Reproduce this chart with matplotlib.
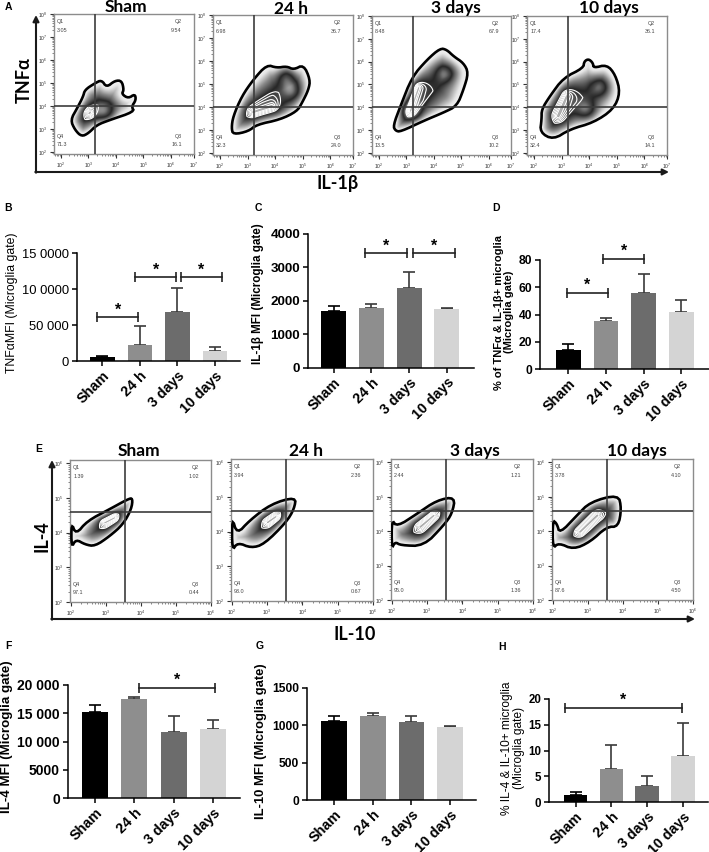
import numpy as np
from matplotlib import pyplot as plt
from matplotlib.patches import Polygon
from matplotlib.colors import LinearSegmentedColormap

W, H = 709, 852
plt.rcParams['font.family'] = ['Liberation Sans', 'DejaVu Sans']

## DATA ##
groups = ['Sham', '24 h', '3 days', '10 days']
bar_colors = ['#000000', '#8e8e8e', '#6c6c6c', '#d4d4d4']

# bar heights and top of the error bar
tnf_mfi = [5500, 22000, 68000, 13500]
tnf_top = [7000, 48000, 101000, 20000]
il1_mfi = [1700, 1790, 2370, 1745]
il1_top = [1840, 1900, 2850, 1780]
tnf_il1_pct = [14, 35, 55.5, 42]
tnf_il1_top = [18, 37.5, 70, 51]
il4_mfi = [15300, 17600, 11700, 12150]
il4_top = [16450, 17900, 14500, 13800]
il10_mfi = [1060, 1127, 1047, 972]
il10_top = [1125, 1160, 1122, 985]
il4_il10_pct = [1.4, 6.4, 3.1, 8.9]
il4_il10_top = [2.0, 11, 5.1, 15.3]

# significance brackets: x start, x end, y
tnf_brackets = [(-0.14, 0.95, 61000), (0.87, 1.97, 116500), (2.09, 3.19, 116500)]
il1_brackets = [(0.83, 1.94, 3415), (2.11, 3.21, 3415)]
tnf_il1_brackets = [(-0.04, 1.06, 56), (0.93, 2.02, 81)]
il4_brackets = [(1.12, 3.06, 19500)]
il10_brackets = []
il4_il10_brackets = [(-0.3, 2.97, 18.3)]

# flow plots: quadrant values Q1, Q2, Q3, Q4
quad_a = [['3.05', '9.54', '16.1', '71.3'], ['6.98', '36.7', '24.0', '32.3'],
          ['8.48', '67.9', '10.2', '13.5'], ['17.4', '36.1', '14.1', '32.4']]
quad_e = [['1.39', '1.02', '0.44', '97.1'], ['3.94', '2.36', '0.67', '93.0'],
          ['2.44', '1.21', '1.36', '95.0'], ['3.78', '4.10', '4.50', '87.6']]

# population outlines in log10 units, the dense core line and darker spots
a_sham_x = [2.35, 2.59, 2.81, 2.87, 3.24, 3.48, 3.66, 3.96, 4.21, 4.29, 4.21, 4.45, 4.69, 4.73, 4.57, 4.67, 3.78, 3.30, 3.0, 2.75, 2.51]
a_sham_y = [3.39, 3.90, 4.41, 4.70, 4.99, 5.13, 4.81, 5.10, 5.10, 4.70, 4.52, 4.33, 4.52, 4.26, 3.97, 3.75, 3.39, 3.17, 2.81, 2.67, 2.96]
a_sham_core = ([3.03, 3.06], [3.68, 3.72])
a_sham_spots = [(3.6, 3.75)]

a_24h_x = [2.42, 2.48, 2.79, 3.21, 3.70, 4.06, 4.42, 4.67, 5.03, 5.27, 5.21, 4.97, 4.79, 4.18, 3.33, 3.03, 2.48]
a_24h_y = [3.09, 3.59, 4.46, 5.19, 5.84, 5.70, 5.77, 5.62, 5.84, 5.19, 4.75, 4.17, 3.81, 3.45, 3.23, 2.94, 2.80]
a_24h_core = ([3.21, 3.88], [3.77, 4.03])
a_24h_spots = [(4.6, 4.7), (4.4, 5.3)]

a_3d_x = [2.52, 2.79, 3.21, 3.76, 4.24, 4.48, 4.73, 5.09, 5.27, 5.09, 4.85, 4.36, 3.64, 2.79, 2.61]
a_3d_y = [3.19, 4.06, 5.33, 6.09, 6.59, 6.52, 6.23, 5.94, 5.51, 4.78, 4.06, 3.77, 3.41, 2.93, 2.97]
a_3d_core = ([3.15, 3.45], [3.84, 4.86])
a_3d_spots = [(4.42, 5.51), (3.15, 3.9)]

a_10d_x = [2.28, 2.58, 3.07, 3.79, 3.82, 3.98, 4.14, 4.16, 4.64, 4.95, 5.13, 4.88, 4.16, 3.31, 2.70, 2.22, 2.28]
a_10d_y = [3.91, 4.49, 5.29, 5.72, 6.01, 6.12, 5.94, 5.72, 5.87, 5.43, 4.64, 3.91, 3.33, 3.04, 2.58, 2.90, 3.48]
a_10d_core = ([2.88, 3.19], [3.62, 4.49])
a_10d_spots = [(4.4, 4.9), (3.9, 3.9)]

e_sham_x = [2.02, 2.15, 2.47, 3.11, 3.63, 3.77, 3.73, 3.49, 3.11, 2.69, 2.41, 2.15, 2.02]
e_sham_y = [4.29, 3.95, 4.34, 4.68, 4.97, 5.00, 4.68, 4.24, 3.90, 3.61, 3.66, 3.81, 3.57]
e_sham_core = ([2.97, 3.25], [4.29, 4.43])
e_24h_x = [2.01, 2.15, 2.50, 3.11, 3.82, 3.77, 3.54, 2.92, 2.55, 2.17, 2.01]
e_24h_y = [4.42, 3.93, 4.32, 4.80, 5.01, 4.66, 4.27, 3.64, 3.53, 3.69, 3.45]
e_24h_core = ([3.02, 3.25], [4.27, 4.43])
e_3d_x = [2.0, 2.15, 2.72, 3.28, 3.80, 3.71, 3.47, 2.91, 2.25, 2.10, 2.0]
e_3d_y = [4.34, 4.13, 4.51, 4.90, 5.0, 4.51, 4.17, 3.57, 3.59, 3.69, 3.50]
e_3d_core = ([2.81, 3.19], [4.13, 4.46])
e_10d_x = [2.0, 2.12, 2.2, 2.69, 3.07, 3.87, 3.96, 3.87, 3.54, 3.07, 2.59, 2.17, 2.0]
e_10d_y = [4.32, 4.22, 3.93, 4.46, 4.85, 5.07, 4.66, 4.13, 4.13, 3.69, 3.47, 3.66, 3.50]
e_10d_core = ([2.78, 3.27], [3.98, 4.46])

fig = plt.figure(figsize=(W / 100, H / 100), dpi=100)


def px_axes(left, top, right, bottom):
    return fig.add_axes([left / W, 1 - bottom / H, (right - left) / W, (bottom - top) / H])


# overlay in pixels for panel letters and the big arrows
over = fig.add_axes([0, 0, 1, 1], zorder=10)
over.set_xlim(0, W)
over.set_ylim(H, 0)
over.axis('off')

grey_map = LinearSegmentedColormap.from_list('flow', [(0, '#b8b8b8'), (0.25, '#505050'), (0.42, '#262626'),
                                                      (0.7, '#8a8a8a'), (0.9, '#e6e6e6'), (1, '#f4f4f4')])


def seg_dist(px, py, x, y):
    # smallest distance from grid points to a polyline
    best = np.full(px.shape, 1e9)
    for i in range(len(x) - 1):
        ax_, ay_ = x[i], y[i]
        dx, dy = x[i + 1] - ax_, y[i + 1] - ay_
        t = ((px - ax_) * dx + (py - ay_) * dy) / max(dx * dx + dy * dy, 1e-9)
        t = np.clip(t, 0, 1)
        best = np.minimum(best, np.hypot(px - ax_ - t * dx, py - ay_ - t * dy))
    return best


def smooth(x, y, n=2):
    pts = np.column_stack([x, y])
    for _ in range(n):
        nxt = np.roll(pts, -1, axis=0)
        pts = np.column_stack([0.75 * pts + 0.25 * nxt, 0.25 * pts + 0.75 * nxt]).reshape(-1, 2)
    return pts


def flow_panel(box, xlim, ylim, sx, sy, xt, xt_lab, yt, gate, x, y, core, spots, quad, title, title_x, title_y):
    ax = px_axes(*box)
    ax.set_xlim(*xlim)
    ax.set_ylim(*ylim)
    for s in ax.spines.values():
        s.set_color('#8c8c8c')
        s.set_linewidth(1.0)
    pts = smooth(x, y)
    gx, gy = np.meshgrid(np.linspace(xlim[0], xlim[1], 260), np.linspace(ylim[0], ylim[1], 260))
    loop = np.vstack([pts, pts[:1]])
    de = seg_dist(gx * sx, gy * sy, loop[:, 0] * sx, loop[:, 1] * sy)
    dc = seg_dist(gx * sx, gy * sy, np.array(core[0]) * sx, np.array(core[1]) * sy)
    u = dc / (dc + de + 1e-6)
    g = u.copy()
    for sp in spots:
        g = g - 0.45 * np.exp(-(((gx - sp[0]) * sx) ** 2 + ((gy - sp[1]) * sy) ** 2) / (2 * 7.0 ** 2))
    im = ax.imshow(np.clip(g, 0, 1), extent=[xlim[0], xlim[1], ylim[0], ylim[1]], origin='lower', cmap=grey_map,
                   vmin=0, vmax=1, aspect='auto', zorder=1, interpolation='bilinear')
    patch = Polygon(pts, closed=True, fc='none', ec='none', transform=ax.transData)
    ax.add_patch(patch)
    im.set_clip_path(patch)
    cs = ax.contour(gx, gy, u, levels=[0.1, 0.17, 0.24, 0.31, 0.38], colors='white', linewidths=0.8, zorder=2)
    cs.set_clip_path(patch)
    ax.add_patch(Polygon(pts, closed=True, fc='none', ec='black', lw=1.9, zorder=3))
    ax.axvline(gate[0], color='#3c3c3c', lw=1.2, zorder=4)
    ax.axhline(gate[1], color='#3c3c3c', lw=1.2, zorder=4)

    ax.set_xticks(xt)
    ax.set_xticklabels(['$\\mathregular{10^{%d}}$' % v for v in xt_lab], fontsize=3.6, color='#333333')
    ax.set_yticks(yt)
    ax.set_yticklabels(['$\\mathregular{10^{%d}}$' % v for v in yt], fontsize=3.6, color='#333333')
    minor_x = [d + np.log10(m) for d in range(1, 8) for m in range(2, 10)]
    minor_y = [d + np.log10(m) for d in range(1, 8) for m in range(2, 10)]
    ax.set_xticks([v for v in minor_x if xlim[0] < v < xlim[1]], minor=True)
    ax.set_yticks([v for v in minor_y if ylim[0] < v < ylim[1]], minor=True)
    ax.tick_params(axis='both', which='major', length=3, width=0.8, pad=1.5, color='#333333')
    ax.tick_params(axis='both', which='minor', length=1.2, width=0.5, color='#555555')

    for lab, val, ha, px_, py_ in [('Q1', quad[0], 'left', 0.022, 0.945), ('Q2', quad[1], 'right', 0.915, 0.945),
                                   ('Q3', quad[2], 'right', 0.915, 0.125), ('Q4', quad[3], 'left', 0.022, 0.125)]:
        ax.text(px_, py_, lab, transform=ax.transAxes, fontsize=3.9, color='#444444', ha=ha, va='center')
        ax.text(px_, py_ - 0.06, val, transform=ax.transAxes, fontsize=3.9, color='#444444', ha=ha, va='center')
    over.text(title_x, title_y, title, family='Lato', weight='bold', fontsize=12.5, ha='center', va='center')
    return ax


a_boxes = [(54, 14, 193.5, 154), (213, 15, 353, 155), (372, 16, 511, 155), (527, 16, 667, 155)]
a_title_x = [126, 291, 456, 609]
a_title_y = [7, 9, 8, 8]
a_data = [(a_sham_x, a_sham_y, a_sham_core, a_sham_spots), (a_24h_x, a_24h_y, a_24h_core, a_24h_spots),
          (a_3d_x, a_3d_y, a_3d_core, a_3d_spots), (a_10d_x, a_10d_y, a_10d_core, a_10d_spots)]
for i in range(4):
    flow_panel(a_boxes[i], (1.75, 6.82), (1.91, 8.0), 27.5, 23, [2, 3, 4, 5, 6, 6.82], [2, 3, 4, 5, 6, 7],
               [2, 3, 4, 5, 6, 7, 8], (3.24, 4.0), a_data[i][0], a_data[i][1], a_data[i][2], a_data[i][3], quad_a[i],
               groups[i], a_title_x[i], a_title_y[i])

e_boxes = [(70, 460, 211, 602), (231, 459, 373, 601), (391, 459, 533, 600), (552, 459, 693, 600)]
e_title_x = [139, 306, 475, 637]
e_data = [(e_sham_x, e_sham_y, e_sham_core), (e_24h_x, e_24h_y, e_24h_core),
          (e_3d_x, e_3d_y, e_3d_core), (e_10d_x, e_10d_y, e_10d_core)]
for i in range(4):
    flow_panel(e_boxes[i], (1.98, 6.0), (2.0, 6.1), 35, 34.5, [2, 3, 4, 5, 6], [2, 3, 4, 5, 6], [2, 3, 4, 5, 6],
               (3.55, 4.6), e_data[i][0], e_data[i][1], e_data[i][2], [], quad_e[i], groups[i], e_title_x[i], 451)


def bar_panel(box, xlim, ymax, yticks, ylabs, vals, tops, brackets, tick_fs, tick_w='bold'):
    ax = px_axes(*box)
    pos = np.arange(len(groups))
    err = [np.zeros(4), np.array(tops) - np.array(vals)]
    for i in range(4):
        ax.errorbar(pos[i], vals[i], yerr=[[err[0][i]], [err[1][i]]], color='#000000' if i == 0 else '#3a3a3a',
                    lw=1.2, capsize=4.3, capthick=1.2, zorder=1, clip_on=False)
    ax.bar(pos, vals, width=0.66, color=bar_colors, zorder=2)
    ax.set_xlim(*xlim)
    ax.set_ylim(0, ymax)
    ax.set_yticks(yticks)
    ax.set_yticklabels(ylabs, fontsize=tick_fs, weight=tick_w)
    ax.set_xticks(pos)
    ax.set_xticklabels(groups, fontsize=10.3, weight='bold', rotation=45, ha='right', rotation_mode='anchor')
    ax.spines['top'].set_visible(False)
    ax.spines['right'].set_visible(False)
    ax.spines['left'].set_linewidth(1.1)
    ax.spines['bottom'].set_linewidth(1.1)
    ax.tick_params(axis='both', length=3.6, width=1.1, pad=2)
    ax.patch.set_alpha(0)
    for x1, x2, y in brackets:
        ax.plot([x1, x2], [y, y], color='#222222', lw=1.2, marker='|', ms=7.5, mew=1.2, clip_on=False, zorder=4)
        ax.annotate('*', ((x1 + x2) / 2, y), xytext=(0, 5.2), textcoords='offset points', ha='center', va='center',
                    fontsize=11.5, weight='bold', annotation_clip=False)
    return ax


bar_panel((77, 253, 240, 361), (-0.68, 3.67), 150000, [0, 50000, 100000, 150000], ['0', '50 000', '10 0000', '15 0000'],
          tnf_mfi, tnf_top, tnf_brackets, 9.4, 'normal')
bar_panel((308, 233.7, 474, 367.7), (-0.68, 3.72), 4000, [0, 1000, 2000, 3000, 4000], ['0', '1000', '2000', '3000', '4000'],
          il1_mfi, il1_top, il1_brackets, 9.7)
bar_panel((540, 260, 709, 369), (-0.75, 3.73), 80, [0, 20, 40, 60, 80], ['0', '20', '40', '60', '80'],
          tnf_il1_pct, tnf_il1_top, tnf_il1_brackets, 8.7)
bar_panel((67.7, 685, 240, 798), (-0.70, 3.69), 20000, [0, 5000, 10000, 15000, 20000], ['0', '5000', '10 000', '15 000', '20 000'],
          il4_mfi, il4_top, il4_brackets, 10)
bar_panel((306.7, 687.7, 476, 800.3), (-0.71, 3.67), 1500, [0, 500, 1000, 1500], ['0', '500', '1000', '1500'],
          il10_mfi, il10_top, il10_brackets, 8.7)
bar_panel((549, 698.7, 708, 802.3), (-0.74, 3.69), 20, [0, 5, 10, 15, 20], ['0', '5', '10', '15', '20'],
          il4_il10_pct, il4_il10_top, il4_il10_brackets, 8.3)

# y labels of the bar panels
over.text(12, 303, 'TNF\u03b1MFI (Microglia gate)', rotation=90, fontsize=8.8, ha='center', va='center')
over.text(258, 294, 'IL-1\u03b2 MFI (Microglia gate)', rotation=90, fontsize=8.4, weight='bold', ha='center', va='center')
over.text(504, 312, '% of TNF\u03b1 & IL-1\u03b2+ microglia\n(Microglia gate)', rotation=90, fontsize=8.0, weight='bold',
          ha='center', va='center', linespacing=1.1, multialignment='center')
over.text(7, 737, 'IL-4 MFI (Microglia gate)', rotation=90, fontsize=9.6, weight='bold', ha='center', va='center')
over.text(261, 741, 'IL-10 MFI (Microglia gate)', rotation=90, fontsize=9.4, weight='bold', ha='center', va='center')
over.text(513, 748, '% IL-4 & IL-10+ microglia\n(Microglia gate)', rotation=90, fontsize=8.6, ha='center', va='center',
          linespacing=1.1, multialignment='center')

# flow axis titles and arrows
over.text(24, 80, 'TNF\u03b1', family='Lato', weight='bold', rotation=90, fontsize=13, ha='center', va='center')
over.text(338, 183, 'IL-1\u03b2', family='Lato', weight='bold', fontsize=13, ha='center', va='center')
over.text(42, 536, 'IL-4', family='Lato', weight='bold', rotation=90, fontsize=13, ha='center', va='center')
over.text(355, 635, 'IL-10', family='Lato', weight='bold', fontsize=13, ha='center', va='center')

arrow = dict(arrowstyle='-|>', color='#1a1a1a', lw=1.5, mutation_scale=9, shrinkA=0, shrinkB=0)
over.annotate('', xy=(36, 15), xytext=(36, 172.7), arrowprops=arrow)
over.annotate('', xy=(669, 172), xytext=(35.3, 172), arrowprops=arrow)
over.annotate('', xy=(52, 460), xytext=(52, 619.7), arrowprops=arrow)
over.annotate('', xy=(695, 619), xytext=(51.3, 619), arrowprops=arrow)

# panel letters
letters = ['A', 'B', 'C', 'D', 'E', 'F', 'G', 'H']
letter_x = [8, 8, 258, 496, 39, 8, 260, 502]
letter_y = [7, 208, 208, 208, 449, 646, 646, 647]
for i in range(8):
    over.text(letter_x[i], letter_y[i], letters[i], fontsize=7.5, weight='bold', ha='center', va='center')

plt.savefig('out.png', dpi=100)
